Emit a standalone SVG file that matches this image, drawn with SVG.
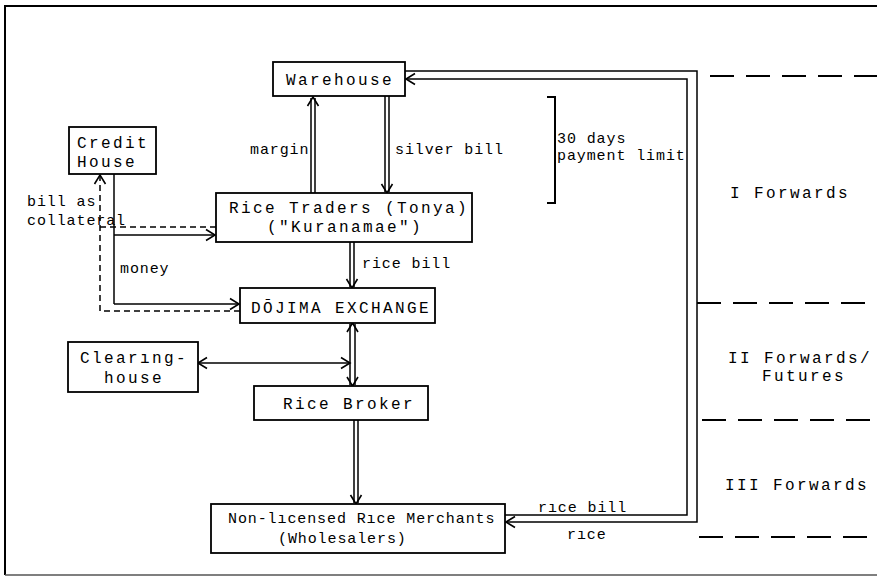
<svg xmlns="http://www.w3.org/2000/svg" width="877" height="576" viewBox="0 0 877 576">
<style>
.bx{fill:#fff;stroke:#000;stroke-width:1.8}
.ln{fill:none;stroke:#000;stroke-width:1.5}
.dl{fill:none;stroke:#000;stroke-width:1.5;stroke-dasharray:6 4}
.sep{fill:none;stroke:#000;stroke-width:1.8;stroke-dasharray:24 12}
.t{font-family:"Liberation Mono","DejaVu Sans Mono",monospace;font-size:16px;letter-spacing:2.4px;fill:#000}
.s{font-family:"Liberation Mono","DejaVu Sans Mono",monospace;font-size:15px;letter-spacing:0.9px;fill:#000}
</style>
<defs>
<marker id="a" markerUnits="userSpaceOnUse" markerWidth="20" markerHeight="20" viewBox="-10 -10 20 20" refX="0" refY="0" orient="auto-start-reverse">
<path d="M-9,-5.5 L0,0 L-9,5.5" fill="none" stroke="#000" stroke-width="1.6"/>
</marker>
</defs>
<rect width="877" height="576" fill="#fff"/>
<g id="frame">
<path d="M877,6 H5 V575" fill="none" stroke="#000" stroke-width="2"/>
<path d="M5,575 H877" fill="none" stroke="#555" stroke-width="1.5"/>
</g>
<g id="connectors">
<path class="ln" d="M311,193 V98 M315,193 V98"/>
<path d="M313,193 V97" stroke="none" fill="none" marker-end="url(#a)"/>
<path class="ln" d="M385,96 V192 M389,96 V192"/>
<path d="M387,96 V193" stroke="none" fill="none" marker-end="url(#a)"/>
<path class="ln" d="M350,242 V287 M354,242 V287"/>
<path d="M352,242 V288" stroke="none" fill="none" marker-end="url(#a)"/>
<path class="ln" d="M350,324 V385 M355,324 V385"/>
<path d="M352.5,323 V386" stroke="none" fill="none" marker-start="url(#a)" marker-end="url(#a)"/>
<path class="ln" d="M198,363 H350" marker-start="url(#a)" marker-end="url(#a)"/>
<path class="ln" d="M354,420 V503 M358,420 V503"/>
<path d="M356,420 V504" stroke="none" fill="none" marker-end="url(#a)"/>
<path class="ln" d="M405,71 H697 V522 H506" marker-end="url(#a)"/>
<path class="ln" d="M505,515 H687 V79 H406" marker-end="url(#a)"/>
<path class="ln" d="M114,174 V304"/>
<path class="ln" d="M114,235 H215" marker-end="url(#a)"/>
<path class="ln" d="M114,304 H239" marker-end="url(#a)"/>
<path class="dl" d="M216,227 H100"/>
<path class="dl" d="M240,311 H100 V175" marker-end="url(#a)"/>
<path d="M547,97 H555 V203 H547" fill="none" stroke="#000" stroke-width="2"/>
<path class="sep" d="M710,76 H877"/>
<path class="sep" d="M697,303 H877"/>
<path class="sep" d="M702,420 H877"/>
<path class="sep" d="M699,537 H877"/>
</g>
<g id="warehouse">
<rect class="bx" x="273" y="62" width="132" height="34"/>
<text class="t" x="286" y="85">Warehouse</text>
</g>
<g id="credit-house">
<rect class="bx" x="69" y="127" width="87" height="47"/>
<text class="t" x="77" y="148">Credit</text>
<text class="t" x="77" y="167">House</text>
</g>
<g id="rice-traders">
<rect class="bx" x="216" y="193" width="256" height="49"/>
<text class="t" x="229" y="213">Rice Traders (Tonya)</text>
<text class="t" x="267" y="232">("Kuranamae")</text>
</g>
<g id="dojima">
<rect class="bx" x="240" y="288" width="195" height="35"/>
<text class="t" x="251" y="313">DŌJIMA EXCHANGE</text>
</g>
<g id="clearinghouse">
<rect class="bx" x="68" y="342" width="130" height="50"/>
<text class="t" x="80" y="363">Clearıng-</text>
<text class="t" x="104" y="383">house</text>
</g>
<g id="rice-broker">
<rect class="bx" x="254" y="386" width="174" height="34"/>
<text class="t" x="283" y="409">Rice Broker</text>
</g>
<g id="merchants">
<rect class="bx" x="211" y="504" width="294" height="49"/>
<text class="s" x="228" y="523">Non-lıcensed Rıce Merchants</text>
<text class="s" x="278" y="543">(Wholesalers)</text>
</g>
<g id="labels">
<text class="s" x="250" y="154">margin</text>
<text class="s" x="395" y="154">silver bill</text>
<text class="s" x="557" y="143">30 days</text>
<text class="s" x="557" y="160">payment limit</text>
<text class="s" x="27" y="206">bill as</text>
<text class="s" x="27" y="225">collateral</text>
<text class="s" x="120" y="273">money</text>
<text class="s" x="362" y="268">rice bill</text>
<text class="s" x="538" y="512">rıce bill</text>
<text class="s" x="567" y="539">rıce</text>
<text class="t" x="730" y="198">I Forwards</text>
<text class="t" x="728" y="363">II Forwards/</text>
<text class="t" x="762" y="381">Futures</text>
<text class="t" x="725" y="490">III Forwards</text>
</g>
</svg>
